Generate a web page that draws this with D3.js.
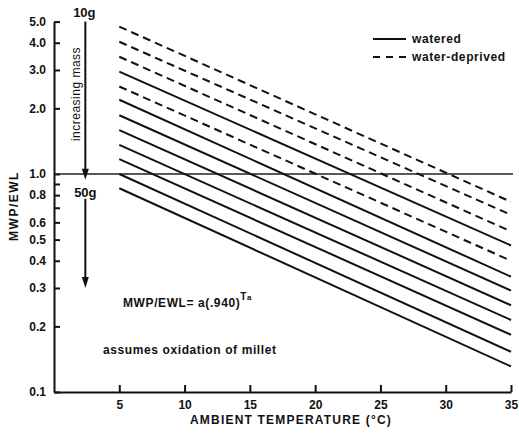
<!DOCTYPE html>
<html>
<head>
<meta charset="utf-8">
<script src="https://cdn.jsdelivr.net/npm/d3@7"></script>
<style>
  html, body { margin: 0; padding: 0; background: #fff; }
  svg { display: block; }
  text { font-family: "Liberation Sans", Arial, sans-serif; fill: #111; }
</style>
</head>
<body>
<svg id="chart" width="519" height="434"></svg>
<script>
// ---- data ----
const temps = [5, 35];                       // ambient temperature endpoints (°C)
const lineTypes = ["dashed","dashed","dashed","solid","dashed","solid","solid","solid","solid","solid","solid","solid"];
const valuesAt5  = [4.74, 4.04, 3.45, 2.95, 2.52, 2.19, 1.86, 1.59, 1.36, 1.17, 1.00, 0.86];
const valuesAt35 = [0.745, 0.65, 0.545, 0.47, 0.40, 0.338, 0.292, 0.25, 0.214, 0.183, 0.153, 0.131];
const xTicks = [5, 10, 15, 20, 25, 30, 35];
const yTicks = [0.1, 0.2, 0.3, 0.4, 0.5, 0.6, 0.7, 0.8, 0.9, 1, 2, 3, 4, 5];
const yTickLabels = ["0.1","0.2","0.3","0.4","0.5","0.6","","0.8","","1.0","2.0","3.0","4.0","5.0"];
const legendItems = [{label: "watered", type: "solid"}, {label: "water-deprived", type: "dashed"}];
const refValue = 1.0;
const massArrowX = 2.4;

// ---- scales ----
const svg = d3.select("#chart");
const x = d3.scaleLinear().domain([0, 35]).range([54, 511]);
const y = d3.scaleLog().domain([0.1, 5]).range([392, 21.6]);
const dash = "8,5";

// axes
const yAxis = d3.axisLeft(y).tickValues(yTicks)
  .tickFormat((d, i) => yTickLabels[i]).tickSizeInner(-6).tickSizeOuter(0).tickPadding(8);
const gy = svg.append("g").attr("transform", `translate(${x(0)},0)`).call(yAxis);
const xAxis = d3.axisBottom(x).tickValues(xTicks).tickSizeInner(-7).tickSizeOuter(0).tickPadding(8);
const gx = svg.append("g").attr("transform", `translate(0,${y(0.1)})`).call(xAxis);
[gx, gy].forEach(g => {
  g.select(".domain").attr("stroke", "#111").attr("stroke-width", 2);
  g.selectAll(".tick line").attr("stroke", "#111").attr("stroke-width", 2);
  g.selectAll(".tick text").attr("font-size", 12).attr("font-weight", "bold")
    .attr("font-family", "'Liberation Sans', Arial, sans-serif").attr("fill", "#111");
});

// reference line at 1.0
svg.append("line").attr("x1", x(0)).attr("x2", x(35) + 2)
  .attr("y1", y(refValue)).attr("y2", y(refValue))
  .attr("stroke", "#222").attr("stroke-width", 1.6);

// lines
const lineGen = d3.line().x(d => x(d[0])).y(d => y(d[1]));
svg.append("g").selectAll("path").data(lineTypes).join("path")
  .attr("d", (t, i) => lineGen([[temps[0], valuesAt5[i]], [temps[1], valuesAt35[i]]]))
  .attr("fill", "none").attr("stroke", "#111").attr("stroke-width", 2)
  .attr("stroke-dasharray", t => t === "dashed" ? dash : null);

// legend
const lg = svg.append("g");
legendItems.forEach((it, i) => {
  const ly = 39 + i * 18;
  lg.append("line").attr("x1", 373).attr("x2", 406).attr("y1", ly).attr("y2", ly)
    .attr("stroke", "#111").attr("stroke-width", 2)
    .attr("stroke-dasharray", it.type === "dashed" ? "7,6" : null);
  lg.append("text").attr("x", 412).attr("y", ly + 4).attr("font-size", 12)
    .attr("font-weight", "bold").attr("letter-spacing", 0.6).text(it.label);
});

// mass arrow annotation
const ax = x(massArrowX);
function arrowHead(tipY) {
  svg.append("path").attr("d", `M${ax - 3.5},${tipY - 11}L${ax + 3.5},${tipY - 11}L${ax},${tipY}Z`).attr("fill", "#111");
}
svg.append("line").attr("x1", ax).attr("x2", ax).attr("y1", y(5)).attr("y2", y(0.94) - 8)
  .attr("stroke", "#111").attr("stroke-width", 2);
arrowHead(y(0.94));
svg.append("line").attr("x1", ax).attr("x2", ax).attr("y1", y(0.77)).attr("y2", y(0.30) - 8)
  .attr("stroke", "#111").attr("stroke-width", 2);
arrowHead(y(0.30));
svg.append("text").attr("x", ax - 1).attr("y", 17).attr("text-anchor", "middle")
  .attr("font-size", 13).attr("font-weight", "bold").text("10g");
svg.append("text").attr("x", ax).attr("y", 197).attr("text-anchor", "middle")
  .attr("font-size", 13).attr("font-weight", "bold").text("50g");
svg.append("text").attr("transform", `translate(80,94) rotate(-90)`).attr("text-anchor", "middle")
  .attr("font-size", 12).attr("letter-spacing", 0.5).text("increasing mass");

// axis titles
svg.append("text").attr("x", 291).attr("y", 424).attr("text-anchor", "middle")
  .attr("font-size", 12).attr("font-weight", "bold").attr("letter-spacing", 1.2)
  .text("AMBIENT TEMPERATURE (°C)");
svg.append("text").attr("transform", `translate(18,206) rotate(-90)`).attr("text-anchor", "middle")
  .attr("font-size", 12).attr("font-weight", "bold").attr("letter-spacing", 1.5).text("MWP/EWL");

// formula & note
const f = svg.append("text").attr("x", 123).attr("y", 307).attr("font-size", 12)
  .attr("font-weight", "bold").attr("letter-spacing", 0.6);
f.append("tspan").text("MWP/EWL= a(.940)");
f.append("tspan").attr("dy", -7).attr("font-size", 10).text("T");
f.append("tspan").attr("font-size", 8).text("a");
svg.append("text").attr("x", 103).attr("y", 354).attr("font-size", 12)
  .attr("font-weight", "bold").attr("letter-spacing", 0.6).text("assumes oxidation of millet");
</script>
</body>
</html>
